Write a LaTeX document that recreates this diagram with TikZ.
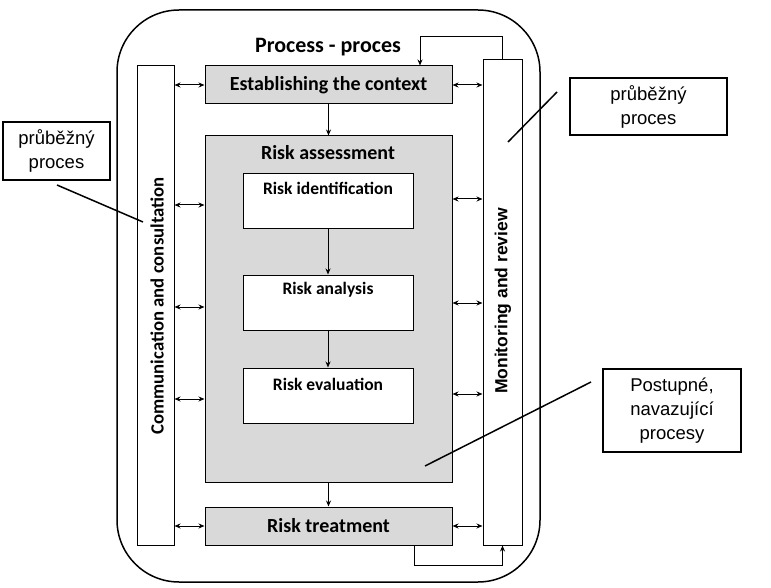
\documentclass[tikz,border=0pt]{standalone}
\usepackage{fontspec}
\setmainfont{Carlito}
\newfontfamily\arialfont{Liberation Sans}
\usetikzlibrary{arrows.meta}
\definecolor{boxgray}{RGB}{217,217,217}

\begin{document}
\begin{tikzpicture}[x=1pt,y=-1pt,
        stage/.style={draw, line width=1pt, fill=boxgray, inner sep=0pt,
            font=\bfseries\fontsize{20}{24}\selectfont},
        stepbox/.style={draw, line width=1pt, fill=white, inner sep=0pt,
            minimum width=170, minimum height=55},
        steptext/.style={font=\bfseries\fontsize{17.5}{21}\selectfont},
        column/.style={draw, line width=1pt, fill=white, inner sep=0pt},
        note/.style={draw, line width=2pt, fill=white, align=center,
            font=\arialfont\fontsize{18.5}{24}\selectfont},
        arr/.style={-{Stealth[length=6pt,width=5pt]}, line width=1pt},
        dbl/.style={{Stealth[length=6pt,width=5pt]}-{Stealth[length=6pt,width=5pt]}, line width=1pt},
        pointer/.style={line width=1.5pt}]
    \useasboundingbox (0,0) rectangle (771,588);
    \draw[line width=1.5pt, rounded corners=62] (117,10) rectangle (540,582);
    \node[font=\bfseries\fontsize{22}{26}\selectfont] (title) at (328,47) {Process - proces};

    % side columns
    \node[column, minimum width=37, minimum height=479] (comm) at (155.5,305.5) {};
    \node[column, minimum width=39, minimum height=485] (mon) at (502.5,302.5) {};
    \node[rotate=90, font=\bfseries\fontsize{18.7}{22}\selectfont] (comm-t) at (157,306) {Communication and consultation};
    \node[rotate=90, font=\arialfont\bfseries\fontsize{17.5}{21}\selectfont] (mon-t) at (503,301) {Monitoring and review};

    % main stages
    \node[stage, minimum width=247, minimum height=38] (ctx) at (328.5,85) {Establishing the context};
    \node[stage, minimum width=247, minimum height=346] (assess) at (328.5,309) {};
    \node[stage, draw=none, fill=none] (assess-t) at (328,153) {Risk assessment};
    \node[stage, minimum width=247, minimum height=38] (treat) at (328.5,526) {Risk treatment};

    \node[stepbox] (ident) at (328,201.5) {};
    \node[stepbox] (anal) at (328,302.5) {};
    \node[stepbox] (eval) at (328,395.5) {};
    \node[steptext] (ident-t) at (328,188) {Risk identification};
    \node[steptext] (anal-t) at (328,290) {Risk analysis};
    \node[steptext] (eval-t) at (328,384) {Risk evaluation};

    \draw[arr] (ctx) -- (assess);
    \draw[arr] (ident) -- (anal);
    \draw[arr] (anal) -- (eval);
    \draw[arr, line width=1.5pt] (assess) -- (treat);

    % two-way links to the columns
    \draw[dbl] (comm.east |- ctx) -- (ctx.west);
    \draw[dbl] (comm.east |- treat) -- (treat.west);
    \foreach \y in {205,307,399}
        \draw[dbl] (comm.east |- 0,\y) -- (assess.west |- 0,\y);
    \draw[dbl] (ctx.east) -- (mon.west |- ctx);
    \draw[dbl] (treat.east) -- (mon.west |- treat);
    \foreach \y in {199,303,394}
        \draw[dbl] (assess.east |- 0,\y) -- (mon.west |- 0,\y);

    % feedback loops
    \coordinate (fb-top) at (420,37);
    \coordinate (fb-bot) at (414,565);
    \draw[arr] (mon.north) |- (fb-top) -- (fb-top |- ctx.north);
    \draw[arr] (fb-bot |- treat.south) -- (fb-bot) -| (mon.south);

    % notes
    \node[note, minimum width=107, minimum height=58] (note-l) at (56.5,151) {průběžný\\proces};
    \node[note, minimum width=157, minimum height=57] (note-r) at (648.5,106.5) {průběžný\\proces};
    \node[note, minimum width=138, minimum height=83] (note-b) at (672,410.5) {Postupné,\\navazující\\procesy};
    \coordinate (pl-a) at (57,185);
    \coordinate (pl-b) at (143,222);
    \coordinate (pr-a) at (557,92);
    \coordinate (pr-b) at (508,142);
    \coordinate (pb-a) at (591,382);
    \coordinate (pb-b) at (425,466);
    \draw[pointer] (pl-a) -- (pl-b);
    \draw[pointer] (pr-a) -- (pr-b);
    \draw[pointer] (pb-a) -- (pb-b);
\end{tikzpicture}
\end{document}
